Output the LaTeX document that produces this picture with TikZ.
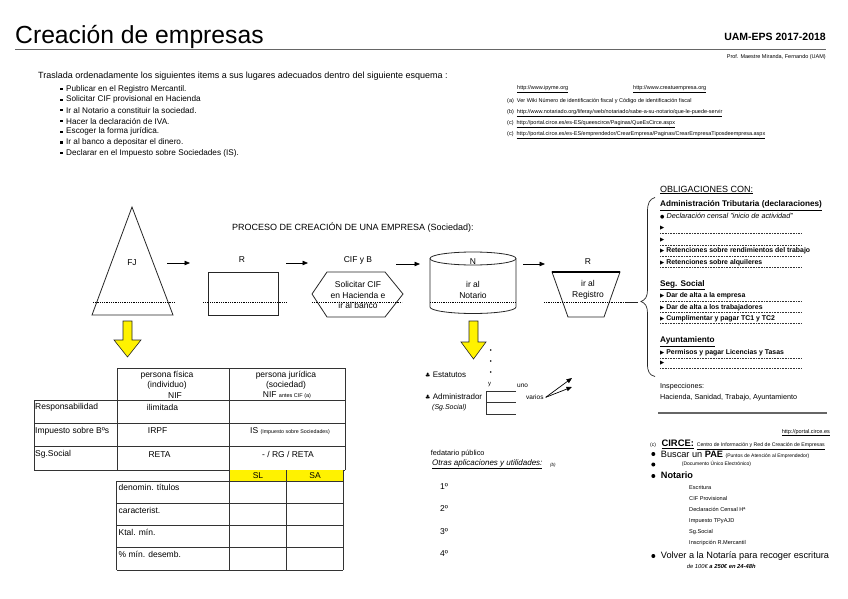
\documentclass[tikz,border=0pt]{standalone}
\usepackage{fontspec}
\setmainfont{Liberation Sans}
\newfontfamily\symfont{DejaVu Sans}
\usetikzlibrary{arrows.meta}

\newcommand{\fsz}[1]{\fontsize{#1}{#1}\selectfont}
\newcommand{\ptr}{{\symfont\fsz{5.5}▶}}

\begin{document}
\begin{tikzpicture}[
    x=1pt,y=-1pt,
    every node/.style={inner sep=0pt},
    txt/.style={anchor=west,font=\fsz{8.2}},
    linktxt/.style={anchor=west,font=\fsz{5.5}},
    cell/.style={anchor=west,font=\fsz{8.5}},
    hdr/.style={font=\fsz{8.5}},
    oblig/.style={anchor=west,font=\bfseries\fsz{6.9}},
    side/.style={anchor=west,font=\fsz{7.2}},
    heading/.style={anchor=west,font=\bfseries\fsz{8.2}},
    notarylist/.style={anchor=west,font=\fsz{5.6}},
    shapelbl/.style={font=\fsz{8.5},align=center},
    sqbullet/.style={rectangle,fill=black,minimum size=2.2pt},
    rdbullet/.style={circle,fill=black,minimum size=4pt},
    outline/.style={draw=black!85,line width=0.8pt},
    cutline/.style={draw=black,line width=0.5pt,dash pattern=on 1pt off 0.8pt},
    dotline/.style={draw=black!80,line width=0.5pt,dash pattern=on 0.8pt off 0.8pt},
    flow/.style={-{Triangle[length=5.5pt,width=4.5pt]},draw=black,line width=0.7pt},
    yellowarrow/.style={fill=yellow,draw=black!85,line width=0.6pt},
    tabline/.style={draw=black!80,line width=1pt},
  ]
  \useasboundingbox (0,0) rectangle (848,599);

  % header
  \node[anchor=base west,font=\fsz{24.7}] (title) at (15,44) {Creación de empresas};
  \node[anchor=base east,font=\bfseries\fsz{10.5}] (course) at (826,41) {UAM-EPS 2017-2018};
  \draw[draw=black!60,line width=1.5pt] (15,49.5) -- (826,49.5);
  \node[anchor=base east,font=\fsz{5.5}] (prof) at (826,59) {Prof. Maestre Miranda, Fernando (UAM)};

  % task
  \node[txt,font=\fsz{9}] (task) at (38,76) {Traslada ordenadamente los siguientes items a sus lugares adecuados dentro del siguiente esquema :};
  \foreach \t [count=\i] in {Publicar en el Registro Mercantil.,Solicitar CIF provisional en Hacienda,Ir al Notario a constituir la sociedad.,Hacer la declaración de IVA.,Escoger la forma jurídica.,Ir al banco a depositar el dinero.,Declarar en el Impuesto sobre Sociedades (IS).} {
    \node[txt] (item\i) at (66,{89+10.7*(\i-1)}) {\t};
    \node[sqbullet] (sq\i) at (61.5,{89+10.7*(\i-1)}) {};
  }

  % links
  \node[linktxt] (ipyme) at (517,89) {\underline{http://www.ipyme.org}};
  \node[linktxt] (crear) at (633,89) {\underline{http://www.creatuempresa.org}};
  \node[linktxt] (linka) at (507,101) {(a)\ \ Ver Wiki Número de identificación fiscal y Código de identificación fiscal};
  \node[linktxt] (linkb) at (507,113) {(b)\ \ \underline{http://www.notariado.org/liferay/web/notariado/sabe-a-su-notario/que-le-puede-servir}};
  \node[linktxt] (linkc) at (507,124) {(c)\ \ \underline{http://portal.circe.es/es-ES/queescirce/Paginas/QueEsCirce.aspx}};
  \node[linktxt] (linkd) at (507,135) {(c)\ \ \underline{http://portal.circe.es/es-ES/emprendedor/CrearEmpresa/Paginas/CrearEmpresaTiposdeempresa.aspx}};

  % process
  \node[anchor=west,font=\fsz{9}] (proc) at (232,228) {PROCESO DE CREACIÓN DE UNA EMPRESA (Sociedad):};

  \draw[outline] (132,207) -- (173,315) -- (92,315) -- cycle;
  \node[shapelbl] (fj) at (132,263) {FJ};
  \draw[cutline] (93,302) -- (175,302);

  \draw[outline] (208,272) rectangle (278,315);
  \node[shapelbl] (reg1) at (242,260) {R};
  \draw[cutline] (203,302) -- (287,302);

  \draw[outline] (312,294) -- (327,272) -- (385,272) -- (403,294) -- (385,317) -- (327,317) -- cycle;
  \node[shapelbl] (cif) at (358,260) {CIF y B};
  \node[shapelbl,font=\fontsize{8.5}{10.8}\selectfont] (cifbox) at (358,295) {Solicitar CIF\\en Hacienda e\\ir al banco};
  \draw[cutline] (312,302) -- (402,302);

  \draw[outline] (473,258.5) ellipse [x radius=43,y radius=6.5];
  \draw[outline] (430,258.5) -- (430,307) arc[start angle=180,end angle=0,x radius=43,y radius=6.5] -- (516,258.5);
  \node[shapelbl] (notario) at (473,262) {N};
  \node[shapelbl,font=\fontsize{8.5}{11.4}\selectfont] (notbox) at (473,290) {ir al\\Notario};
  \draw[cutline] (430,302) -- (516,302);

  \draw[outline] (568,317) -- (552,272) -- (620,272) -- (604,317) -- cycle;
  \draw[draw=black,line width=1.3pt] (552,272) -- (620,272);
  \node[shapelbl] (reg2) at (588,262) {R};
  \node[shapelbl,font=\fontsize{8.5}{11.4}\selectfont] (regbox) at (588,290) {ir al\\Registro};
  \draw[cutline] (544,302) -- (631,302);

  \foreach \xa/\xb/\yy [count=\k] in {167/190/263,286/308/263,396/420/264,523/545/264} {
    \coordinate (s\k) at (\xa,\yy);
    \coordinate (e\k) at (\xb,\yy);
    \draw[flow] (s\k) -- (e\k);
  }

  \draw[yellowarrow] (123,321) -- (132,321) -- (132,340) -- (141,340) -- (127.5,357) -- (114,340) -- (123,340) -- cycle;
  \draw[yellowarrow] (469,321) -- (478,321) -- (478,342) -- (486,342) -- (473.5,359) -- (461,342) -- (469,342) -- cycle;

  % notary details
  \foreach \y in {350,361,372} {
    \fill (490.7,\y) circle (0.8);
  }
  \node[txt,font=\fsz{8}] (estatutos) at (425,375) {{\symfont\fsz{6}♣}\ Estatutos};
  \node[txt,font=\fsz{8}] (admin) at (425,396.7) {{\symfont\fsz{6}♣}\ Administrador};
  \node[anchor=west,font=\itshape\fsz{7}] (sgsoc) at (432,408) {(Sg.Social)};
  \node[anchor=west,font=\fsz{6}] (yy) at (488,384.5) {y};
  \node[anchor=west,font=\fsz{6.5}] (uno) at (517,386) {uno};
  \node[anchor=west,font=\fsz{6.5}] (varios) at (526,397.3) {varios};
  \draw[draw=black!80,line width=0.6pt] (516,391.7) -- (486.7,391.7) -- (486.7,414) -- (516,414);
  \draw[draw=black!80,line width=0.6pt] (486.7,402.7) -- (516,402.7);
  \coordinate (tipuno) at (572,378);
  \coordinate (tipvarios) at (572,387);
  \draw[flow] ([xshift=2pt]varios.east) -- (tipuno);
  \draw[flow] ([xshift=2pt]varios.east) -- (tipvarios);

  \node[anchor=west,font=\fsz{7.3}] (fedatario) at (430.7,453.3) {fedatario público};
  \node[anchor=west,font=\itshape\fsz{8}] (otras) at (432,464.5) {\underline{Otras aplicaciones y utilidades:}};
  \node[anchor=west,font=\itshape\fsz{4.5}] (refb) at (550,465) {(b)};
  \foreach \n/\y in {1/486.7,2/509,3/531.7,4/554} {
    \node[anchor=west,font=\fsz{8.5}] (paso\n) at (440,\y) {\n º};
  }

  % table
  \draw[tabline] (117,368.3) -- (345,368.3);
  \foreach \y in {400.7,423.7,446.8,470} {
    \draw[tabline] (34,\y) -- (345,\y);
  }
  \draw[tabline] (34,400.7) -- (34,470);
  \foreach \x in {117,229.3,345} {
    \draw[tabline] (\x,368.3) -- (\x,470);
  }
  \node[hdr] (pf1) at (167,375) {persona física};
  \node[hdr] (pf2) at (167,385) {(individuo)};
  \node[hdr] (pf3) at (175,395.5) {NIF};
  \node[hdr] (pj1) at (286,375) {persona jurídica};
  \node[hdr] (pj2) at (286,385) {(sociedad)};
  \node[hdr] (pj3) at (287,395.5) {NIF {\fsz{5.5}antes CIF (a)}};

  \node[cell] (resp) at (35,407.5) {Responsabilidad};
  \node[cell] (ilim) at (146.7,407.5) {ilimitada};
  \node[cell] (impb) at (35,431) {Impuesto sobre Bºs};
  \node[cell] (irpf) at (147.7,431) {IRPF};
  \node[cell] (is) at (250,431) {IS {\fsz{5.3}(Impuesto sobre Sociedades)}};
  \node[cell] (sgs) at (35,454.5) {Sg.Social};
  \node[cell] (reta) at (148.3,454.5) {RETA};
  \node[hdr] (rgreta) at (288,454.5) {- / RG / RETA};

  \fill[yellow] (229.3,470) rectangle (343.3,481);
  \node[hdr] (sl) at (258,475.5) {SL};
  \node[hdr] (sa) at (315,475.5) {SA};
  \foreach \y in {481,503.3,525.7,547.3,570} {
    \draw[tabline] (116.7,\y) -- (343.3,\y);
  }
  \draw[tabline] (116.7,481) -- (116.7,570);
  \foreach \x in {229.3,286.7,343.3} {
    \draw[tabline] (\x,470) -- (\x,570);
  }
  \foreach \t/\y [count=\r] in {denomin. títulos/487.5,caracterist./510,Ktal. mín./532,\% mín. desemb./554} {
    \node[cell] (fila\r) at (118.5,\y) {\t};
  }

  % obligations
  \node[anchor=west,font=\fsz{9}] (oblig) at (660,190) {\underline{OBLIGACIONES CON:}};
  \node[heading] (hacienda) at (660,205.7) {\underline{Administración Tributaria (declaraciones)}};
  \node[anchor=west,font=\itshape\fsz{7.3}] (censal) at (660,215.7) {{\symfont\fsz{5}●}\ Declaración censal "inicio de actividad"};
  \foreach \y/\t [count=\i] in {228/{},239.8/{},251/Retenciones sobre rendimientos del trabajo,262.3/Retenciones sobre alquileres} {
    \node[oblig] (trib\i) at (660,\y) {\ptr\ \t};
    \draw[dotline] (660,\y+5.3) -- (802,\y+5.3);
  }

  \node[heading] (segsoc) at (660,285) {\underline{Seg. Social}};
  \foreach \y/\t [count=\i] in {296/Dar de alta a la empresa,307.3/Dar de alta a los trabajadores,318.3/Cumplimentar y pagar TC1 y TC2} {
    \node[oblig] (ss\i) at (660,\y) {\ptr\ \t};
    \draw[dotline] (660,\y+5.3) -- (802,\y+5.3);
  }

  \node[heading] (ayto) at (660,341.7) {\underline{Ayuntamiento}};
  \foreach \y/\t [count=\i] in {352.7/Permisos y pagar Licencias y Tasas,363.3/{}} {
    \node[oblig] (ay\i) at (660,\y) {\ptr\ \t};
    \draw[dotline] (660,\y+5.3) -- (802,\y+5.3);
  }

  \draw[draw=black!85,line width=0.7pt] (655,197.5) .. controls (649.5,199) and (647.5,203) .. (647.5,212)
    -- (647.5,290) .. controls (647.5,297) and (645,300) .. (641,301.5)
    .. controls (645,303) and (647.5,306) .. (647.5,313) -- (647.5,364)
    .. controls (647.5,372) and (649.5,375) .. (655,376.5);
  \draw[draw=black!85,line width=0.7pt] (626,302) -- (638,302);

  \node[side] (insp) at (660,386.7) {Inspecciones:};
  \node[side] (inspl) at (660,397.3) {Hacienda, Sanidad, Trabajo, Ayuntamiento};

  % circe
  \draw[draw=black!60,line width=2pt] (658,413.3) -- (827,413.3);
  \node[anchor=east,font=\fsz{5.5}] (circeurl) at (830,432.7) {\underline{http://portal.circe.es}};
  \node[anchor=base west] (circe) at (650,446.5) {{\fsz{5}(c)}\ \ {\bfseries\fsz{9.4}\underline{CIRCE:}}\ {\fsz{5.2}\underline{Centro de Información y Red de Creación de Empresas}}};
  \foreach \y [count=\i] in {454,464.5,476,556} {
    \node[rdbullet] (dot\i) at (653.3,\y) {};
  }
  \node[anchor=base west,font=\fsz{9.2}] (pae) at (660.7,457) {Buscar un \textbf{PAE} {\fsz{5}(Puntos de Atención al Emprendedor)}};
  \node[anchor=west,font=\fsz{5}] (due) at (681.7,464.3) {(Documento Único Electrónico)};
  \node[anchor=base west,font=\bfseries\fsz{9.2}] (notar) at (660.7,478.5) {Notario};
  \foreach \t/\y [count=\i] in {Escritura/487.7,CIF Provisional/498.7,Declaración Censal Hª/509.3,Impuesto TPyAJD/520.7,Sg.Social/531.7,Inscripción R.Mercantil/542.7} {
    \node[notarylist] (tramite\i) at (689,\y) {\t};
  }
  \node[anchor=base west,font=\fsz{9.2}] (volver) at (660.7,558.3) {Volver a la Notaría para recoger escritura};
  \node[anchor=west,font=\itshape\fsz{5.8}] (coste) at (686.7,566) {de 100€ \textbf{a 250€ en 24-48h}};
\end{tikzpicture}
\end{document}
